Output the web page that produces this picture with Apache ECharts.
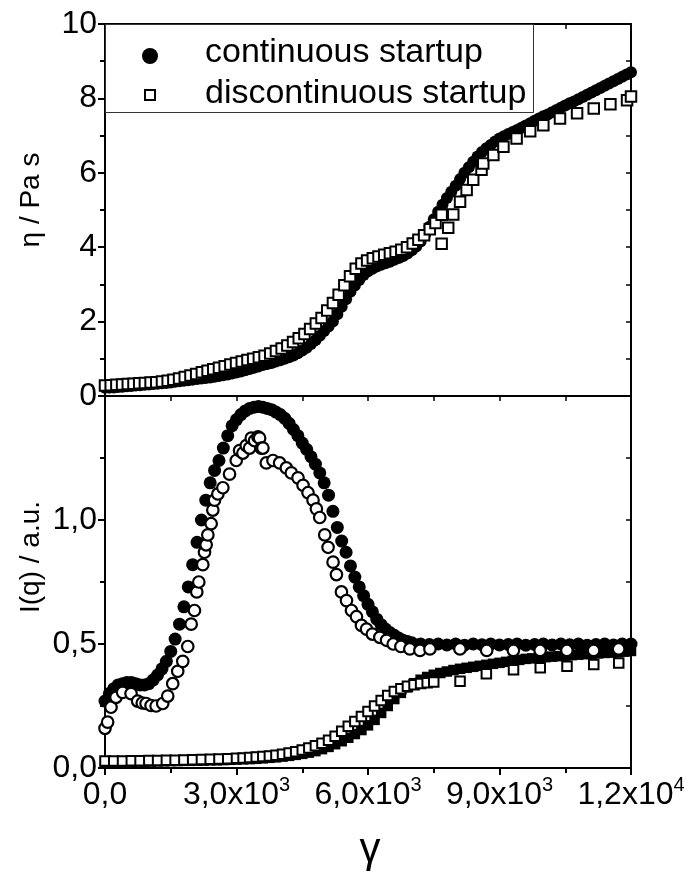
<!DOCTYPE html>
<html><head><meta charset="utf-8">
<script src="https://cdn.jsdelivr.net/npm/echarts@6/dist/echarts.min.js"></script>
<style>html,body{margin:0;padding:0;background:#fff}#c{width:689px;height:873px}</style>
</head><body><div id="c"></div>
<script>
const FONT = 'Liberation Sans';

// ---- top panel: viscosity eta (Pa s) vs strain gamma ----
const etaContX = [0,100,200,300,400,500,600,700,800,900,1000,1100,1200,1300,1400,1500,1600,1700,1800,1900,2000,2100,2200,2300,2400,2500,2600,2700,2800,2900,3000,3100,3200,3300,3400,3500,3600,3700,3800,3900,4000,4100,4200,4300,4400,4500,4600,4700,4800,4900,5000,5100,5200,5300,5400,5500,5600,5700,5800,5900,6000,6100,6200,6300,6400,6500,6600,6700,6800,6900,7000,7100,7200,7300,7400,7500,7600,7700,7800,7900,8000,8100,8200,8300,8400,8500,8600,8700,8800,8900,9000,9100,9200,9300,9400,9500,9600,9700,9800,9900,10000,10100,10200,10300,10400,10500,10600,10700,10800,10900,11000,11100,11200,11300,11400,11500,11600,11700,11800,11900,12000];
const etaContY = [0.22,0.225,0.23,0.24,0.25,0.26,0.27,0.28,0.29,0.3,0.31,0.32,0.33,0.34,0.35,0.365,0.38,0.395,0.41,0.425,0.44,0.455,0.47,0.485,0.5,0.52,0.54,0.56,0.58,0.605,0.63,0.66,0.69,0.725,0.76,0.795,0.83,0.86,0.89,0.925,0.96,1.0,1.04,1.09,1.15,1.22,1.3,1.4,1.5,1.62,1.75,1.87,2.0,2.2,2.4,2.6,2.8,2.97,3.12,3.25,3.35,3.42,3.48,3.53,3.57,3.61,3.66,3.71,3.76,3.83,3.92,4.02,4.15,4.33,4.55,4.75,4.95,5.14,5.32,5.49,5.65,5.83,6.0,6.15,6.3,6.44,6.56,6.66,6.75,6.84,6.92,6.98,7.04,7.1,7.15,7.21,7.27,7.33,7.4,7.46,7.52,7.57,7.63,7.69,7.75,7.81,7.87,7.92,7.98,8.04,8.1,8.16,8.22,8.28,8.34,8.4,8.46,8.52,8.58,8.64,8.7];

const etaDiscX = [0,130,260,390,520,650,780,910,1040,1170,1300,1430,1560,1690,1820,1950,2080,2210,2340,2470,2600,2730,2860,2990,3120,3250,3380,3510,3640,3770,3900,4030,4160,4290,4420,4550,4680,4810,4940,5070,5200,5330,5460,5590,5720,5850,5980,6110,6240,6370,6500,6630,6760,6890,7020,7150,7280,7410,7540,7680,7680,7830,7945,8100,8250,8400,8590,8630,8860,9090,9390,9700,10000,10380,10770,11150,11530,11910,12000];
const etaDiscY = [0.28,0.29,0.3,0.31,0.32,0.33,0.34,0.35,0.36,0.37,0.39,0.41,0.44,0.47,0.51,0.55,0.59,0.64,0.68,0.72,0.76,0.8,0.85,0.89,0.93,0.97,1.0,1.04,1.08,1.14,1.21,1.28,1.36,1.45,1.55,1.67,1.8,1.95,2.1,2.3,2.5,2.72,2.98,3.22,3.42,3.56,3.64,3.7,3.75,3.8,3.84,3.88,3.93,4.0,4.1,4.2,4.32,4.48,4.65,4.09,4.87,4.52,4.88,5.22,5.54,5.81,6.08,6.25,6.48,6.7,6.92,7.12,7.28,7.46,7.6,7.73,7.84,7.95,8.05];

// ---- bottom panel: scattered intensity I(q) (a.u.) vs strain gamma ----
const iqContX = [0,100,200,300,400,500,600,700,800,900,1000,1100,1200,1300,1400,1500,1600,1700,1800,1900,2000,2100,2200,2300,2400,2500,2600,2700,2800,2900,3000,3100,3200,3300,3400,3500,3600,3700,3800,3900,4000,4100,4200,4300,4400,4500,4600,4700,4800,4900,5000,5100,5200,5300,5400,5500,5600,5700,5800,5900,6000,6100,6200,6300,6400,6500,6600,6700,6800,6900,7000,7200,7400,7600,7800,8000,8200,8400,8600,8800,9000,9200,9400,9600,9800,10000,10200,10400,10600,10800,11000,11200,11400,11600,11800,12000];
const iqContY = [0.27,0.3,0.32,0.335,0.34,0.345,0.345,0.34,0.335,0.335,0.34,0.355,0.375,0.4,0.43,0.47,0.52,0.58,0.65,0.73,0.82,0.91,1.0,1.08,1.15,1.2,1.24,1.29,1.34,1.38,1.405,1.425,1.44,1.45,1.455,1.458,1.455,1.45,1.445,1.435,1.425,1.41,1.39,1.365,1.34,1.31,1.285,1.255,1.225,1.19,1.15,1.1,1.035,0.97,0.915,0.87,0.815,0.77,0.73,0.695,0.66,0.63,0.6,0.578,0.56,0.546,0.535,0.524,0.515,0.51,0.505,0.5,0.498,0.5,0.496,0.5,0.495,0.5,0.497,0.5,0.496,0.498,0.5,0.495,0.498,0.5,0.496,0.5,0.497,0.5,0.495,0.498,0.5,0.496,0.5,0.5];

const iqDiscX = [0,60,137,251,402,594,745,850,937,1050,1166,1317,1431,1545,1659,1774,1888,1966,2041,2094,2140,2231,2270,2308,2346,2422,2460,2498,2575,2689,2841,2994,3070,3146,3223,3298,3337,3413,3490,3527,3565,3603,3680,3832,3984,4137,4251,4403,4518,4632,4746,4822,4899,5013,5089,5203,5280,5394,5509,5623,5737,5851,5966,6100,6270,6423,6575,6750,6955,7185,7413,8098,8708,9317,9927,10537,11147,11718];
const iqDiscY = [0.16,0.185,0.245,0.285,0.305,0.3,0.27,0.262,0.26,0.252,0.25,0.26,0.29,0.34,0.39,0.43,0.49,0.58,0.635,0.71,0.75,0.82,0.87,0.9,0.94,0.985,1.04,1.08,1.105,1.13,1.185,1.24,1.28,1.27,1.3,1.29,1.33,1.32,1.335,1.33,1.29,1.29,1.23,1.24,1.23,1.21,1.19,1.17,1.14,1.11,1.08,1.045,1.01,0.94,0.89,0.83,0.78,0.71,0.675,0.635,0.61,0.575,0.56,0.54,0.527,0.515,0.5,0.49,0.48,0.474,0.48,0.48,0.474,0.474,0.474,0.474,0.474,0.48];

const lowContX = [0,150,300,450,600,750,900,1050,1200,1350,1500,1650,1800,1950,2100,2250,2400,2550,2700,2850,3000,3150,3300,3450,3600,3750,3900,4050,4200,4350,4500,4650,4800,4950,5100,5250,5400,5550,5700,5850,6000,6150,6300,6450,6600,6750,6900,7050,7200,7350,7500,7650,7800,7950,8100,8250,8400,8550,8700,8850,9000,9150,9300,9450,9600,9750,9900,10050,10200,10350,10500,10650,10800,10950,11100,11250,11400,11550,11700,11850,12000];
const lowContY = [0.025,0.025,0.025,0.025,0.025,0.026,0.026,0.026,0.027,0.027,0.028,0.028,0.029,0.029,0.03,0.03,0.031,0.031,0.032,0.033,0.034,0.035,0.036,0.037,0.039,0.041,0.043,0.046,0.049,0.053,0.057,0.062,0.068,0.076,0.085,0.096,0.108,0.122,0.137,0.153,0.172,0.194,0.222,0.25,0.278,0.303,0.325,0.342,0.356,0.367,0.376,0.383,0.389,0.395,0.4,0.404,0.408,0.412,0.416,0.42,0.424,0.428,0.432,0.436,0.44,0.442,0.444,0.447,0.449,0.451,0.453,0.455,0.457,0.459,0.46,0.462,0.464,0.465,0.467,0.469,0.472];

const lowDiscX = [0,200,400,600,800,1000,1200,1400,1600,1800,2000,2200,2400,2600,2800,3000,3150,3300,3450,3600,3750,3900,4050,4200,4350,4500,4650,4800,4950,5100,5250,5400,5550,5700,5850,6000,6150,6300,6450,6600,6750,6900,7050,7200,7350,7500,8100,8700,9320,9930,10540,11150,11720];
const lowDiscY = [0.028,0.028,0.028,0.029,0.029,0.03,0.03,0.031,0.031,0.032,0.033,0.034,0.035,0.036,0.037,0.039,0.04,0.042,0.044,0.046,0.048,0.051,0.055,0.06,0.066,0.073,0.081,0.09,0.1,0.112,0.128,0.148,0.168,0.188,0.208,0.228,0.25,0.272,0.292,0.308,0.32,0.33,0.336,0.341,0.344,0.347,0.35,0.38,0.396,0.404,0.41,0.417,0.423];

// ---- tick labels / texts ----
const xTickMant = ['0,0','3,0x10','6,0x10','9,0x10','1,2x10'];
const xTickExp  = ['','3','3','3','4'];
const iqTickLabels = ['0,0','0,5','1,0'];
const legendNames = ['continuous startup', 'discontinuous startup'];

const pts = (xs, ys) => xs.map((x, i) => [x, ys[i]]);

const black = '#000';
const lineBase = { show: true, onZero: false, lineStyle: { color: black, width: 2 } };

const chart = echarts.init(document.getElementById('c'), null, { renderer: 'canvas' });
chart.setOption({
  animation: false,
  backgroundColor: '#fff',
  grid: [
    { left: 105, top: 24, width: 526, height: 372, outerBoundsMode: 'none', containLabel: false },
    { left: 105, top: 396, width: 526, height: 372, outerBoundsMode: 'none', containLabel: false }
  ],
  xAxis: [
    { gridIndex: 0, type: 'value', position: 'bottom', min: 0, max: 12000, interval: 1500,
      axisLine: lineBase, axisTick: { show: false }, axisLabel: { show: false }, splitLine: { show: false } },
    { gridIndex: 0, type: 'value', position: 'top', min: 0, max: 12000, interval: 1500,
      axisLine: lineBase, axisTick: { show: true, inside: true, length: 5, lineStyle: { color: black, width: 1.5 } },
      axisLabel: { show: false }, splitLine: { show: false } },
    { gridIndex: 1, type: 'value', position: 'bottom', min: 0, max: 12000, interval: 3000,
      axisLine: lineBase,
      axisTick: { show: true, inside: false, length: 7, lineStyle: { color: black, width: 2 } },
      minorTick: { show: true, splitNumber: 2, length: 5, lineStyle: { color: black, width: 2 } },
      axisLabel: {
        show: true, margin: 7, fontFamily: FONT, fontSize: 32, color: black,
        showMinLabel: true, showMaxLabel: true,
        formatter: (v) => {
          const i = Math.round(v / 3000);
          return xTickExp[i] ? '{b|' + xTickMant[i] + '}{s|' + xTickExp[i] + '}' : '{b|' + xTickMant[i] + '}';
        },
        rich: {
          b: { fontFamily: FONT, fontSize: 32, color: black, lineHeight: 40 },
          s: { fontFamily: FONT, fontSize: 20, color: black, lineHeight: 19, verticalAlign: 'top' }
        }
      },
      splitLine: { show: false } },
    { gridIndex: 1, type: 'value', position: 'top', min: 0, max: 12000, interval: 1500,
      axisLine: lineBase, axisTick: { show: true, inside: true, length: 5, lineStyle: { color: black, width: 1.5 } },
      axisLabel: { show: false }, splitLine: { show: false } }
  ],
  yAxis: [
    { gridIndex: 0, type: 'value', position: 'left', min: 0, max: 10, interval: 2,
      axisLine: lineBase,
      axisTick: { show: true, inside: false, length: 7, lineStyle: { color: black, width: 2 } },
      minorTick: { show: true, splitNumber: 2, length: 5, lineStyle: { color: black, width: 2 } },
      axisLabel: { show: true, margin: 8, fontFamily: FONT, fontSize: 32, color: black, showMinLabel: true, showMaxLabel: true },
      splitLine: { show: false } },
    { gridIndex: 0, type: 'value', position: 'right', min: 0, max: 10, interval: 1,
      axisLine: lineBase, axisTick: { show: true, inside: true, length: 5, lineStyle: { color: black, width: 1.5 } },
      axisLabel: { show: false }, splitLine: { show: false } },
    { gridIndex: 1, type: 'value', position: 'left', min: 0, max: 1.5, interval: 0.5,
      axisLine: lineBase,
      axisTick: { show: true, inside: false, length: 7, lineStyle: { color: black, width: 2 } },
      minorTick: { show: true, splitNumber: 2, length: 5, lineStyle: { color: black, width: 2 } },
      axisLabel: { show: true, margin: 8, fontFamily: FONT, fontSize: 32, color: black, showMinLabel: true, showMaxLabel: false,
        formatter: (v) => { const i = Math.round(v * 2); return iqTickLabels[i] !== undefined ? iqTickLabels[i] : ''; } },
      splitLine: { show: false } },
    { gridIndex: 1, type: 'value', position: 'right', min: 0, max: 1.5, interval: 0.25,
      axisLine: lineBase, axisTick: { show: true, inside: true, length: 5, lineStyle: { color: black, width: 1.5 } },
      axisLabel: { show: false }, splitLine: { show: false } }
  ],
  graphic: [
    { type: 'rect', z: 100, shape: { x: 105.5, y: 24.5, width: 428, height: 88 }, style: { fill: '#fff', stroke: '#333', lineWidth: 1 } },
    { type: 'circle', z: 101, shape: { cx: 150, cy: 56, r: 8 }, style: { fill: black } },
    { type: 'rect', z: 101, shape: { x: 145, y: 90, width: 10, height: 10 }, style: { fill: '#fff', stroke: black, lineWidth: 2 } },
    { type: 'text', z: 101, x: 205, y: 53, style: { text: legendNames[0], fontFamily: FONT, fontSize: 34, fill: black, textAlign: 'left', textVerticalAlign: 'middle' } },
    { type: 'text', z: 101, x: 205, y: 94, style: { text: legendNames[1], fontFamily: FONT, fontSize: 34, fill: black, textAlign: 'left', textVerticalAlign: 'middle' } },
    { type: 'text', x: 31, y: 200, rotation: Math.PI / 2, style: { text: 'η / Pa s', fontFamily: FONT, fontSize: 28, fill: black, textAlign: 'center', textVerticalAlign: 'middle' } },
    { type: 'text', x: 31, y: 557, rotation: Math.PI / 2, style: { text: 'I(q) / a.u.', fontFamily: FONT, fontSize: 28, fill: black, textAlign: 'center', textVerticalAlign: 'middle' } },
    { type: 'text', x: 370, y: 850, style: { text: 'γ', fontFamily: FONT, fontSize: 42, fill: black, textAlign: 'center', textVerticalAlign: 'middle' } }
  ],
  series: [
    { name: legendNames[0], type: 'scatter', xAxisIndex: 0, yAxisIndex: 0, symbol: 'circle', symbolSize: 12,
      itemStyle: { color: black, opacity: 1 }, data: pts(etaContX, etaContY), z: 2 },
    { name: legendNames[1], type: 'scatter', xAxisIndex: 0, yAxisIndex: 0, symbol: 'rect', symbolSize: 10.5,
      itemStyle: { color: '#fff', borderColor: black, borderWidth: 2, opacity: 1 }, data: pts(etaDiscX, etaDiscY), z: 3 },
    { name: 'I(q) continuous', type: 'scatter', xAxisIndex: 2, yAxisIndex: 2, symbol: 'circle', symbolSize: 13,
      itemStyle: { color: black, opacity: 1 }, data: pts(iqContX, iqContY), z: 2 },
    { name: 'I(q) continuous low', type: 'scatter', xAxisIndex: 2, yAxisIndex: 2, symbol: 'rect', symbolSize: 10.5,
      itemStyle: { color: black, opacity: 1 }, data: pts(lowContX, lowContY), z: 2 },
    { name: 'I(q) discontinuous', type: 'scatter', xAxisIndex: 2, yAxisIndex: 2, symbol: 'circle', symbolSize: 11.5,
      itemStyle: { color: '#fff', borderColor: black, borderWidth: 2.2, opacity: 1 }, data: pts(iqDiscX, iqDiscY), z: 3 },
    { name: 'I(q) discontinuous low', type: 'scatter', xAxisIndex: 2, yAxisIndex: 2, symbol: 'rect', symbolSize: 9.5,
      itemStyle: { color: '#fff', borderColor: black, borderWidth: 2, opacity: 1 }, data: pts(lowDiscX, lowDiscY), z: 3 }
  ]
});
</script>
</body></html>
